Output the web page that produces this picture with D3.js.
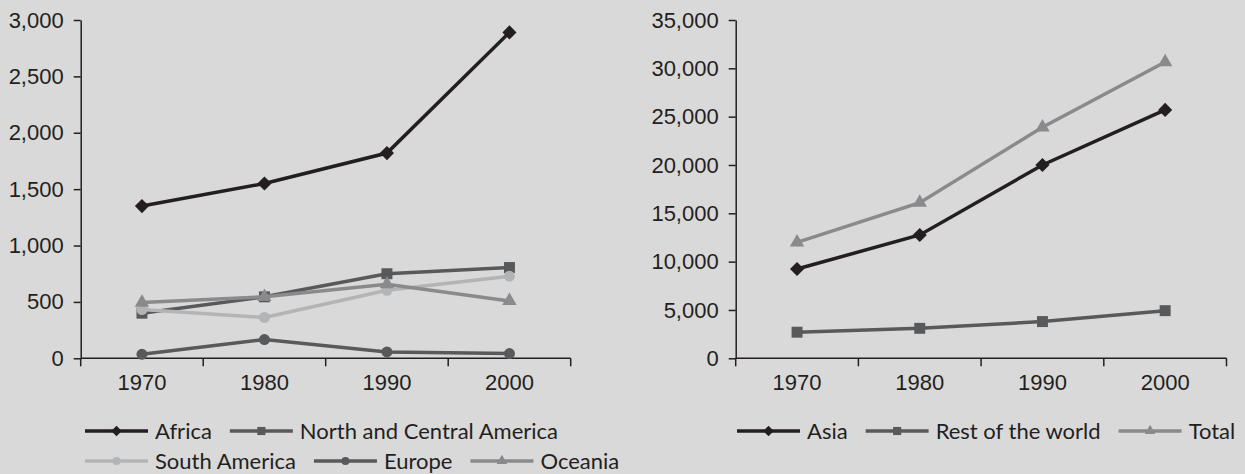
<!DOCTYPE html>
<html lang="en">
<head>
<meta charset="UTF-8">
<script src="https://d3js.org/d3.v7.min.js"></script>
<style>
    body { margin: 0; background: #d9d9d9; }
    svg { display: block; font-family: Lato, sans-serif; }
    .axis path, .axis line { stroke: #231f20; stroke-width: 1.5; }
    .axis text { fill: #231f20; font-size: 22px; }
    .legend text { fill: #231f20; font-size: 22px; }
</style>
</head>
<body>
<svg id="canvas" width="1245" height="474"></svg>
<script>
    // data
    const years = ["1970", "1980", "1990", "2000"];

    const africa = [1350, 1550, 1820, 2890];
    const northCentralAmerica = [400, 545, 750, 805];
    const southAmerica = [432, 362, 603, 728];
    const europe = [35, 166, 56, 42];
    const oceania = [495, 545, 657, 509];

    const asia = [9240, 12760, 20000, 25700];
    const restOfWorld = [2700, 3100, 3800, 4930];
    const total = [12000, 16100, 23900, 30650];

    const leftTicks = [0, 500, 1000, 1500, 2000, 2500, 3000];
    const rightTicks = [0, 5000, 10000, 15000, 20000, 25000, 30000, 35000];

    const black = "#231f20", dark = "#58595b", mid = "#8a8a8c", light = "#b3b4b6";

    const leftSeries = [
        { name: "Africa", values: africa, color: black, symbol: "diamond" },
        { name: "North and Central America", values: northCentralAmerica, color: dark, symbol: "square" },
        { name: "South America", values: southAmerica, color: light, symbol: "circle" },
        { name: "Europe", values: europe, color: dark, symbol: "circle" },
        { name: "Oceania", values: oceania, color: mid, symbol: "triangle" }
    ];
    const rightSeries = [
        { name: "Asia", values: asia, color: black, symbol: "diamond" },
        { name: "Rest of the world", values: restOfWorld, color: dark, symbol: "square" },
        { name: "Total", values: total, color: mid, symbol: "triangle" }
    ];

    const svg = d3.select("#canvas");
    const fmt = d3.format(",");

    function markerPath(type, scale) {
        if (type === "diamond") return d3.symbol(d3.symbolSquare, 100 * scale)();
        if (type === "square") return d3.symbol(d3.symbolSquare, 120 * scale)();
        if (type === "circle") return d3.symbol(d3.symbolCircle, 95 * scale)();
        return d3.symbol(d3.symbolTriangle, 90 * scale)();
    }

    function drawChart(series, ticks, left, right, top, bottom) {
        const x = d3.scaleBand().domain(years).range([left, right]);
        const y = d3.scaleLinear().domain([0, ticks[ticks.length - 1]]).range([bottom, top]);

        // y axis
        svg.append("g")
            .attr("class", "axis")
            .attr("transform", `translate(${left},0)`)
            .call(d3.axisLeft(y).tickValues(ticks).tickFormat(fmt).tickSize(7).tickPadding(10).tickSizeOuter(0));

        // x axis, labels in the middle of each band
        const xa = svg.append("g")
            .attr("class", "axis")
            .attr("transform", `translate(0,${bottom})`)
            .call(d3.axisBottom(x).tickSize(0).tickPadding(16).tickSizeOuter(0));
        xa.select(".domain").attr("d", `M${left},0H${right}`);

        // x tick marks on band edges
        xa.selectAll(".edge")
            .data(d3.range(years.length + 1))
            .join("line")
            .attr("class", "edge")
            .attr("x1", i => left + i * x.step())
            .attr("x2", i => left + i * x.step())
            .attr("y1", 0)
            .attr("y2", 8);

        const line = d3.line()
            .x((d, i) => x(years[i]) + x.bandwidth() / 2)
            .y(d => y(d));

        const g = svg.append("g")
            .selectAll("g")
            .data(series)
            .join("g");

        g.append("path")
            .attr("d", d => line(d.values))
            .attr("fill", "none")
            .attr("stroke", d => d.color)
            .attr("stroke-width", 3.5);

        g.each(function (s) {
            d3.select(this).selectAll(".pt")
                .data(s.values)
                .join("path")
                .attr("class", "pt")
                .attr("d", markerPath(s.symbol, 1))
                .attr("fill", s.color)
                .attr("transform", (d, i) => `translate(${x(years[i]) + x.bandwidth() / 2},${y(d)})` + (s.symbol === "diamond" ? " rotate(45)" : ""));
        });
    }

    drawChart(leftSeries, leftTicks, 80.7, 570.7, 20, 358.3);
    drawChart(rightSeries, rightTicks, 735.7, 1226.5, 20, 358.3);

    // legends, each row laid out from the measured text widths
    function drawLegend(rows, startX, rowY) {
        rows.forEach((row, r) => {
            let cx = startX;
            row.forEach(s => {
                const item = svg.append("g").attr("class", "legend");
                item.append("line")
                    .attr("x1", cx).attr("x2", cx + 63)
                    .attr("y1", rowY[r]).attr("y2", rowY[r])
                    .attr("stroke", s.color).attr("stroke-width", 3.5);
                item.append("path")
                    .attr("d", markerPath(s.symbol, 0.55))
                    .attr("fill", s.color)
                    .attr("transform", `translate(${cx + 31.5},${rowY[r]})` + (s.symbol === "diamond" ? " rotate(45)" : ""));
                const t = item.append("text")
                    .attr("x", cx + 70)
                    .attr("y", rowY[r])
                    .attr("dy", "0.35em")
                    .text(s.name);
                cx += 70 + t.node().getComputedTextLength() + 18;
            });
        });
    }

    drawLegend([[leftSeries[0], leftSeries[1]], [leftSeries[2], leftSeries[3], leftSeries[4]]], 85, [431, 461]);
    drawLegend([rightSeries], 737, [431]);
</script>
</body>
</html>
